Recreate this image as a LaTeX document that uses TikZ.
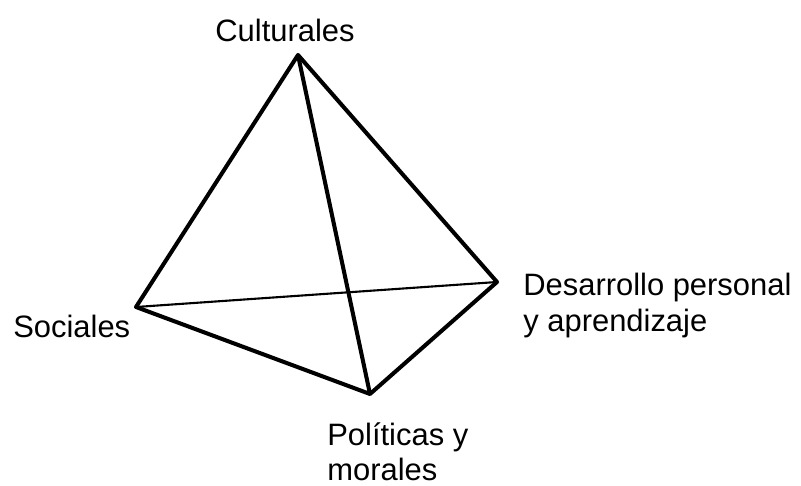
\documentclass[tikz,border=0pt]{standalone}
\usepackage{fontspec}
\setmainfont{Liberation Sans}
\usepackage{tikz}

\begin{document}
\begin{tikzpicture}[x=0.02cm,y=-0.02cm,line join=round]
    \tikzstyle{edge}=[draw=black,line width=2.3pt]
    \tikzstyle{hidden edge}=[draw=black,line width=1.2pt]
    \tikzstyle{annot}=[inner sep=0pt,align=left,font=\fontsize{17.6}{20.4}\selectfont]

    \useasboundingbox (0,0) rectangle (801,486);

    % Draw the corners of the pyramid
    \coordinate (C) at (298,55);
    \coordinate (S) at (136,307);
    \coordinate (D) at (497,282);
    \coordinate (P) at (370,394);

    % Hidden edge at the back
    \path[hidden edge] (S) -- (D);

    % Visible edges
    \path[edge] (S) -- (C) -- (D) -- (P) -- cycle;
    \path[edge] (C) -- (P);

    % Annotate the corners
    \node[annot,anchor=base] (lc) at (285,42) {Culturales};
    \node[annot,anchor=base west] (ls) at (13,337) {Sociales};
    \node[annot,anchor=north west] (ld) at (523,273) {Desarrollo personal\\y aprendizaje};
    \node[annot,anchor=north west] (lp) at (327,422) {Políticas y\\morales};
\end{tikzpicture}
\end{document}
